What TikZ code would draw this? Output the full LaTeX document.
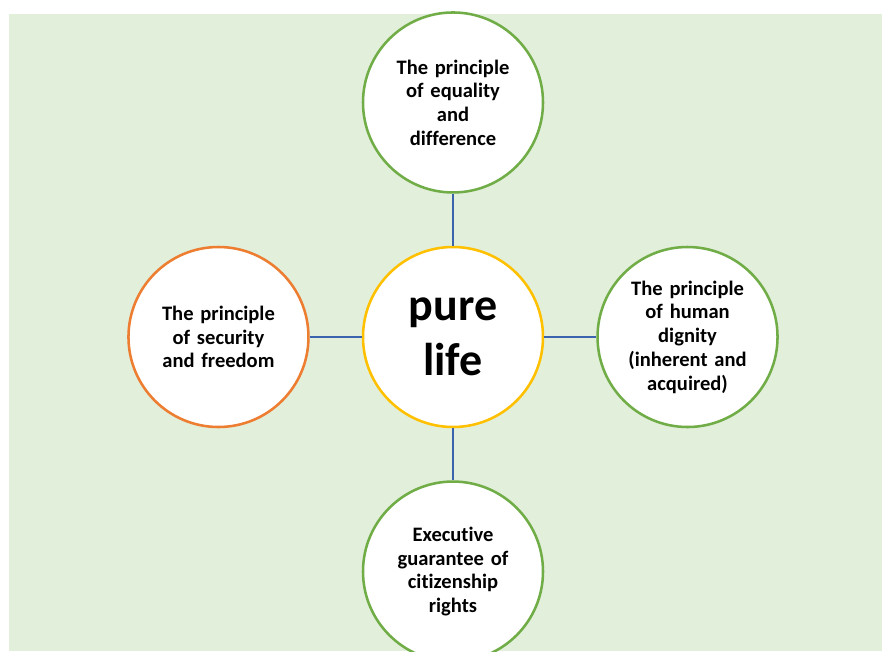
\documentclass[tikz,border=0pt]{standalone}
\usepackage{fontspec}
\setmainfont{Carlito}[Ligatures=NoCommon]
\usepackage{tikz}
\usetikzlibrary{positioning}
\usepackage{xcolor}
\definecolor{bggreen}{HTML}{E2EFDA}
\definecolor{ringgreen}{HTML}{70AD47}
\definecolor{ringorange}{HTML}{ED7D31}
\definecolor{ringyellow}{HTML}{FFC000}
\definecolor{linkblue}{HTML}{3B64AD}

\begin{document}
\begin{tikzpicture} [
		x=0.75pt, y=-0.75pt, node distance=39pt,
		idea/.style    = { circle, draw=ringgreen, line width=1.9pt,
			fill=white, text width=98pt, align=center, inner sep=0pt,
			minimum size=135pt,
			font=\bfseries\fontsize{15.4}{17.8}\selectfont },
		core/.style    = { idea, draw=ringyellow, text width=80pt,
			font=\bfseries\fontsize{34.5}{41}\selectfont },
		link/.style    = { draw=linkblue, line width=1.8pt },
		]
		\useasboundingbox (0,0) rectangle (882,651);
		\clip (0,0) rectangle (882,651);
		\fill[bggreen] (9,14) rectangle (882,651);
		% the centre and its four principles
		\node [core] (life) at (453,337) {pure\\life};
		\node [idea, above=of life] (equal) {The principle\\of equality\\and\\difference};
		\node [idea, left=of life, draw=ringorange] (secure) {The principle\\of security\\and freedom};
		\node [idea, right=of life] (dignity) {The principle\\of human\\dignity\\(inherent and\\acquired)};
		\node [idea, below=of life] (rights) {Executive\\guarantee of\\citizenship\\rights};
		% connect them to the centre
		\begin{scope} [every path/.style=link]
		\path (equal)   -- (life);
		\path (secure)  -- (life);
		\path (dignity) -- (life);
		\path (rights)  -- (life);
		\end{scope}
\end{tikzpicture}
\end{document}
